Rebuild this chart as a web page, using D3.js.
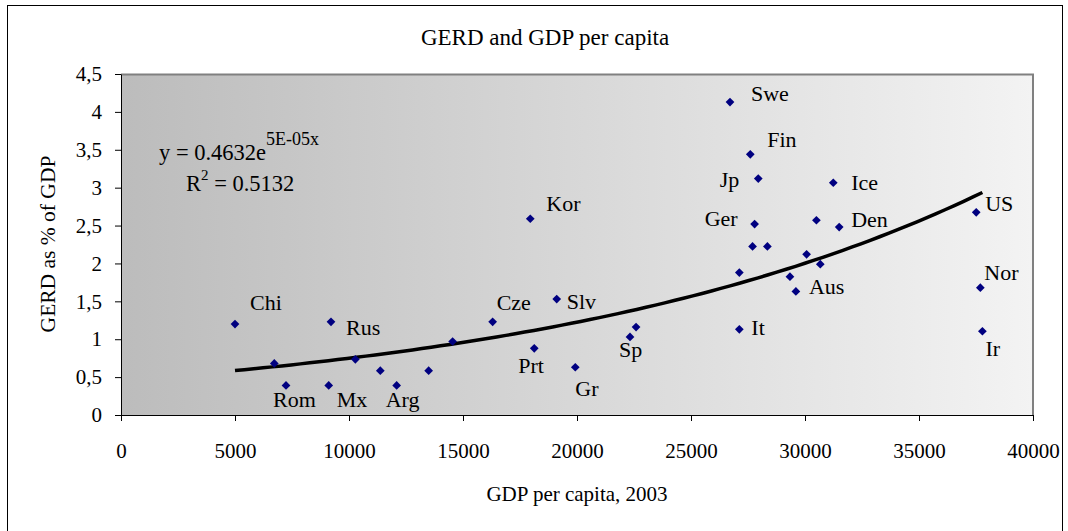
<!DOCTYPE html>
<html>
<head>
<meta charset="utf-8">
<script src="https://cdn.jsdelivr.net/npm/d3@7"></script>
<style>
  body { margin: 0; background: #fff; }
</style>
</head>
<body>
<div id="chart"></div>
<script>
// data
var gdp  = [5000, 6724, 7237, 9110, 9210, 10278, 11373, 12090, 13493, 14545,
            16300, 17950, 18125, 19110, 19925, 22325, 22590, 26710, 27120, 27120,
            27600, 27700, 27790, 27950, 28350, 29340, 29600, 30070, 30500, 30670,
            31240, 31500, 37510, 37690, 37780];
var gerd = [1.20, 0.68, 0.39, 0.39, 1.23, 0.735, 0.585, 0.39, 0.585, 0.97,
            1.23, 2.59, 0.88, 1.53, 0.63, 1.03, 1.16, 4.13, 1.13, 1.88,
            3.44, 2.225, 2.52, 3.12, 2.225, 1.825, 1.63, 2.12, 2.57, 1.99,
            3.065, 2.48, 2.675, 1.68, 1.105];
var country = ["Chi", "", "Rom", "Mx", "Rus", "", "", "Arg", "", "",
               "Cze", "Kor", "Prt", "Slv", "Gr", "Sp", "", "Swe", "It", "",
               "Fin", "", "Ger", "Jp", "", "", "Aus", "", "", "",
               "Ice", "Den", "US", "Nor", "Ir"];
var xTickValues = [0, 5000, 10000, 15000, 20000, 25000, 30000, 35000, 40000];
var yTickValues = [0, 0.5, 1, 1.5, 2, 2.5, 3, 3.5, 4, 4.5];
var yTickLabels = ["0", "0,5", "1", "1,5", "2", "2,5", "3", "3,5", "4", "4,5"];

var FONT = "'Liberation Serif', 'Times New Roman', Times, serif";

var width = 1068, height = 531,
    margin = {top: 74, right: 35, bottom: 116, left: 121},
    plotW = width - margin.left - margin.right,
    plotH = height - margin.top - margin.bottom;

var svg = d3.select("#chart").append("svg")
    .attr("width", width)
    .attr("height", height)
    .attr("font-family", FONT);

// outer frame of the chart
svg.append("rect")
    .attr("x", 7.5).attr("y", 5.5)
    .attr("width", 1055).attr("height", 600)
    .attr("fill", "#fff").attr("stroke", "#000").attr("stroke-width", 1);

var grad = svg.append("defs").append("linearGradient")
    .attr("id", "bg").attr("x1", 0).attr("x2", 1).attr("y1", 0).attr("y2", 0);
grad.append("stop").attr("offset", "0%").attr("stop-color", "#bcbcbc");
grad.append("stop").attr("offset", "100%").attr("stop-color", "#f3f3f3");

var g = svg.append("g").attr("transform", "translate(" + margin.left + "," + margin.top + ")");

var x = d3.scaleLinear().domain([0, 40000]).range([0, plotW]),
    y = d3.scaleLinear().domain([0, 4.5]).range([plotH, 0]);

g.append("rect").attr("width", plotW).attr("height", plotH).attr("fill", "url(#bg)");
// grey top and right edges of the plot area
g.append("path")
    .attr("d", "M0,0.5H" + plotW + "V" + plotH)
    .attr("fill", "none").attr("stroke", "#808080").attr("stroke-width", 2);

var xAxis = g.append("g").attr("transform", "translate(0," + plotH + ")")
    .call(d3.axisBottom(x).tickValues(xTickValues).tickFormat(d3.format("d"))
        .tickSize(6).tickSizeOuter(0).tickPadding(22));
var yAxis = g.append("g")
    .call(d3.axisLeft(y).tickValues(yTickValues)
        .tickFormat(function (d, i) { return yTickLabels[i]; })
        .tickSize(6).tickSizeOuter(0).tickPadding(13));

[xAxis, yAxis].forEach(function (a) {
    a.attr("font-family", FONT).attr("font-size", 21);
    a.selectAll("text").attr("fill", "#000");
    a.selectAll("line, path").attr("stroke", "#000");
});

// exponential trendline, least squares on ln(y)
var mx = d3.mean(gdp),
    my = d3.mean(gerd, function (v) { return Math.log(v); }),
    sxy = d3.sum(gdp, function (v, i) { return (v - mx) * (Math.log(gerd[i]) - my); }),
    sxx = d3.sum(gdp, function (v) { return (v - mx) * (v - mx); }),
    b = sxy / sxx,
    a = Math.exp(my - b * mx);

var xmin = d3.min(gdp), xmax = d3.max(gdp);
var trend = d3.range(0, 81).map(function (k) {
    var xv = xmin + (xmax - xmin) * k / 80;
    return [xv, a * Math.exp(b * xv)];
});

g.append("path")
    .datum(trend)
    .attr("fill", "none").attr("stroke", "#000").attr("stroke-width", 3.5)
    .attr("d", d3.line().x(function (d) { return x(d[0]); }).y(function (d) { return y(d[1]); }));

var pts = gdp.map(function (v, i) { return {x: v, y: gerd[i], name: country[i]}; });

g.selectAll("path.pt").data(pts).enter().append("path")
    .attr("class", "pt")
    .attr("d", d3.symbol().type(d3.symbolSquare).size(38))
    .attr("fill", "#000080")
    .attr("transform", function (d) { return "translate(" + x(d.x) + "," + y(d.y) + ") rotate(45)"; });

// label placement next to each marker
var labelPos = {
    Chi: [15, -14, "start"], Rus: [15, 13, "start"], Rom: [-13, 22, "start"],
    Mx: [8, 22, "start"], Arg: [-11, 22, "start"], Kor: [16, -8, "start"],
    Cze: [4, -12, "start"], Slv: [10, 10, "start"], Prt: [-16, 25, "start"],
    Gr: [0, 29, "start"], Sp: [-11, 20, "start"], Swe: [21, -1, "start"],
    Fin: [17, -7, "start"], Jp: [-19, 8, "end"], Ice: [18, 7, "start"],
    Ger: [-17, 2, "end"], Den: [12, 0, "start"], Aus: [13, 3, "start"],
    It: [12, 6, "start"], US: [9, -1, "start"], Nor: [4, -8, "start"],
    Ir: [3, 25, "start"]
};

g.selectAll("text.lbl").data(pts.filter(function (d) { return d.name; })).enter()
    .append("text")
    .attr("class", "lbl")
    .attr("x", function (d) { return x(d.x) + labelPos[d.name][0]; })
    .attr("y", function (d) { return y(d.y) + labelPos[d.name][1]; })
    .attr("text-anchor", function (d) { return labelPos[d.name][2]; })
    .attr("font-size", 22)
    .text(function (d) { return d.name; });

// regression equation
var eq = svg.append("text").attr("x", 159).attr("y", 160).attr("font-size", 22.5);
eq.append("tspan").text("y = 0.4632e");
eq.append("tspan").attr("dy", -15).attr("font-size", 18).text("5E-05x");
var r2 = svg.append("text").attr("x", 186).attr("y", 191).attr("font-size", 22.5);
r2.append("tspan").text("R");
r2.append("tspan").attr("dy", -11).attr("font-size", 15).text("2");
r2.append("tspan").attr("dy", 11).text(" = 0.5132");

// titles
svg.append("text").attr("x", 545).attr("y", 45).attr("text-anchor", "middle")
    .attr("font-size", 23).text("GERD and GDP per capita");
svg.append("text").attr("x", 577).attr("y", 501).attr("text-anchor", "middle")
    .attr("font-size", 21).text("GDP per capita, 2003");
svg.append("text").attr("transform", "translate(55,244) rotate(-90)")
    .attr("text-anchor", "middle")
    .attr("font-size", 21.5).text("GERD as % of GDP");
</script>
</body>
</html>
